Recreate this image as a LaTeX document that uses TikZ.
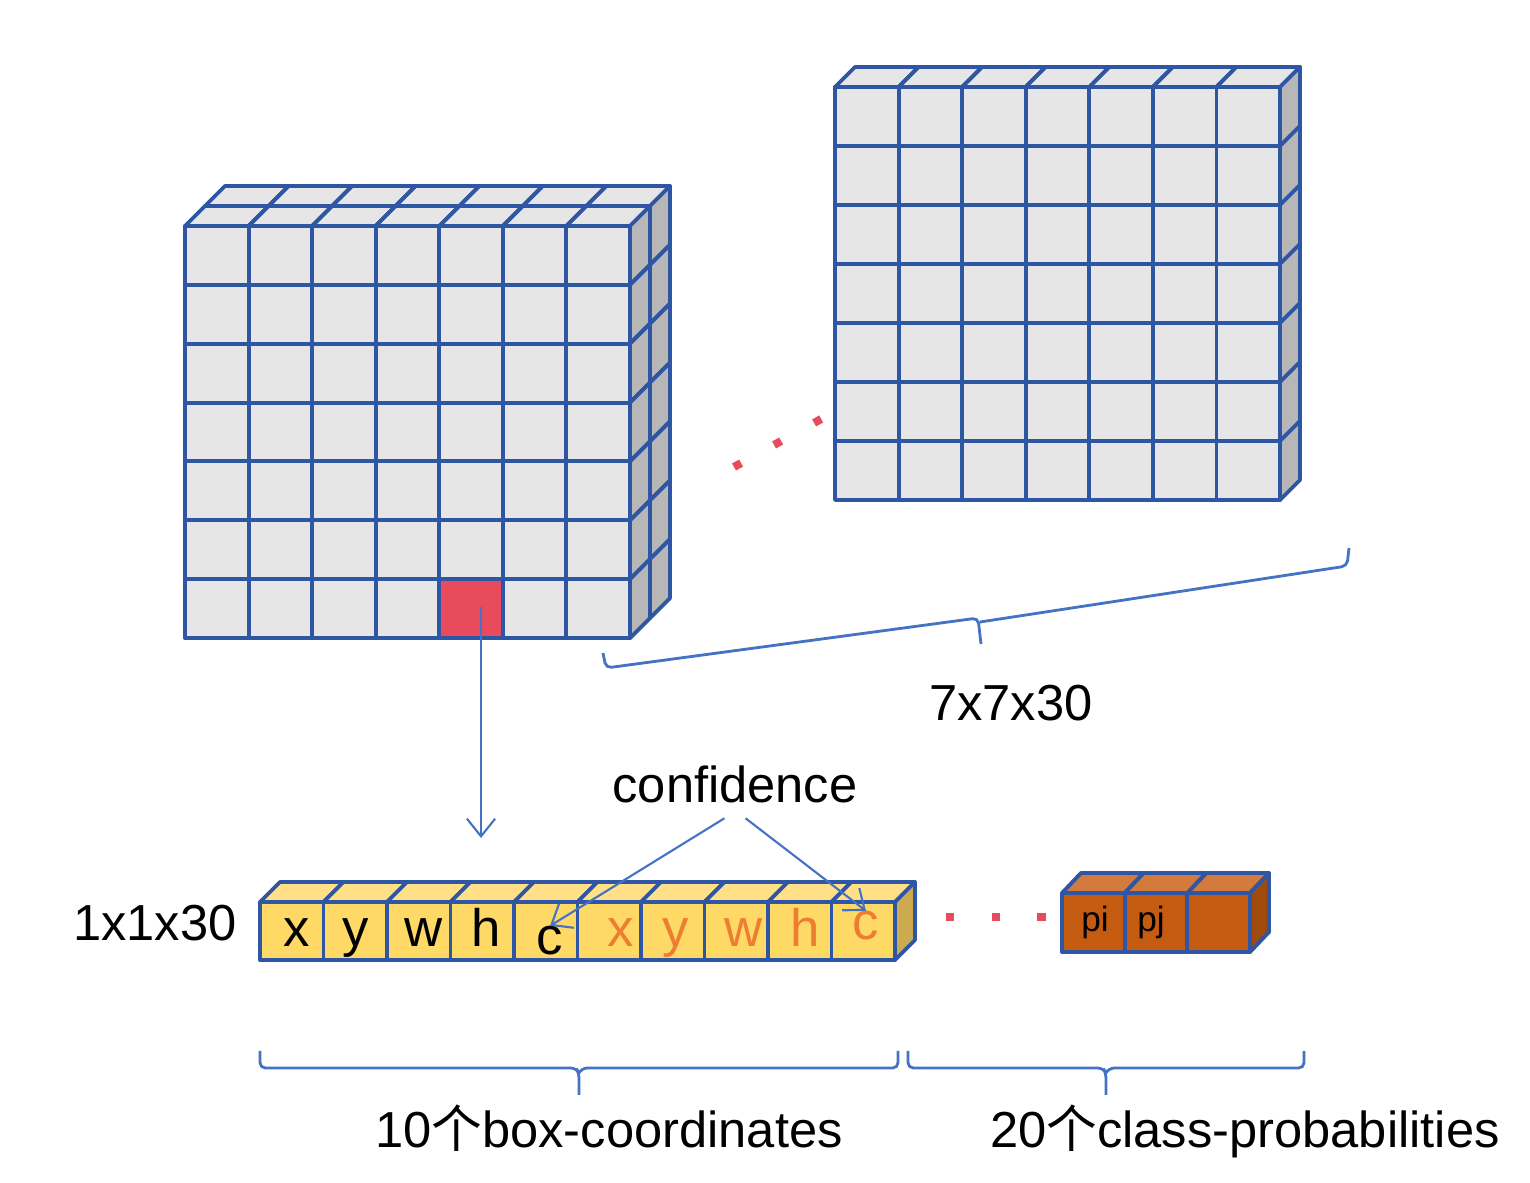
\documentclass[tikz,border=0pt]{standalone}
\usepackage{fontspec}
\setmainfont{Liberation Sans}
\newfontfamily\cjk{Noto Sans CJK SC}
\usetikzlibrary{positioning, arrows.meta}

\definecolor{gridblue}{RGB}{47,85,165}
\definecolor{linkblue}{RGB}{68,114,196}
\definecolor{cellgray}{RGB}{231,230,230}
\definecolor{sidegray}{RGB}{183,183,183}
\definecolor{cellred}{RGB}{232,76,92}
\definecolor{boxyellow}{RGB}{255,217,102}
\definecolor{topyellow}{RGB}{255,224,135}
\definecolor{sideyellow}{RGB}{204,170,80}
\definecolor{textorange}{RGB}{237,125,49}
\definecolor{boxbrown}{RGB}{197,90,17}
\definecolor{topbrown}{RGB}{210,123,60}
\definecolor{sidebrown}{RGB}{160,74,12}

\begin{document}
\begin{tikzpicture}[
        x=0.01cm, y=-0.01cm,
        gridcell/.style={draw=gridblue, line width=1.1pt, line join=round},
        link/.style={-{Straight Barb[length=5pt, width=8pt]}, draw=linkblue, line width=0.6pt},
        bracket/.style={draw=linkblue, line width=0.8pt, rounded corners=1.5pt},
        reddots/.style={draw=cellred, line width=2.3pt, dash pattern=on 2.3pt off 10.7pt},
        txt/.style={font=\fontsize{14.4}{17}\selectfont, anchor=base, inner sep=0pt},
        cubetext/.style={font=\fontsize{15}{18}\selectfont, anchor=base, inner sep=0pt},
        tagtext/.style={font=\fontsize{10}{12}\selectfont, anchor=base, inner sep=0pt}
    ]
        \useasboundingbox (0,0) rectangle (1530,1183);

        % Left tensor (two layers deep)
        \foreach \k in {1,0} {
            \foreach \i in {0,...,6}
                \draw[gridcell, fill=cellgray] ({185+20*\k+63.57*\i},{226-20*\k}) -- ++(63.57,0) -- ++(20,-20) -- ++(-63.57,0) -- cycle;
            \foreach \j in {0,...,6}
                \draw[gridcell, fill=sidegray] ({630+20*\k},{226-20*\k+58.86*\j}) -- ++(20,-20) -- ++(0,58.86) -- ++(-20,20) -- cycle;
        }
        \foreach \i in {0,...,6}
            \foreach \j in {0,...,6}
                \draw[gridcell, fill=cellgray] ({185+63.57*\i},{226+58.86*\j}) rectangle ++(63.57,58.86);
        \draw[gridcell, fill=cellred] ({185+63.57*4},{226+58.86*6}) rectangle ++(63.57,58.86);

        % Right tensor
        \foreach \i in {0,...,6}
            \draw[gridcell, fill=cellgray] ({835+63.57*\i},87) -- ++(63.57,0) -- ++(20,-20) -- ++(-63.57,0) -- cycle;
        \foreach \j in {0,...,6}
            \draw[gridcell, fill=sidegray] (1280,{87+59*\j}) -- ++(20,-20) -- ++(0,59) -- ++(-20,20) -- cycle;
        \foreach \i in {0,...,6}
            \foreach \j in {0,...,6}
                \draw[gridcell, fill=cellgray] ({835+63.57*\i},{87+59*\j}) rectangle ++(63.57,59);

        % 1x1x30 vector: box part
        \foreach \i in {0,...,9}
            \draw[gridcell, fill=topyellow] ({260+63.5*\i},902) -- ++(63.5,0) -- ++(20,-20) -- ++(-63.5,0) -- cycle;
        \draw[gridcell, fill=sideyellow] (895,902) -- ++(20,-20) -- ++(0,58) -- ++(-20,20) -- cycle;
        \foreach \i in {0,...,9}
            \draw[gridcell, fill=boxyellow] ({260+63.5*\i},902) rectangle ++(63.5,58);

        % 1x1x30 vector: class part
        \foreach \i in {0,...,2}
            \draw[gridcell, fill=topbrown] ({1062+62.7*\i},893) -- ++(62.7,0) -- ++(19,-20) -- ++(-62.7,0) -- cycle;
        \draw[gridcell, fill=sidebrown] (1250,893) -- ++(19,-20) -- ++(0,59) -- ++(-19,20) -- cycle;
        \foreach \i in {0,...,2}
            \draw[gridcell, fill=boxbrown] ({1062+62.7*\i},893) rectangle ++(62.7,59);

        % Nodes
        \node[cubetext] (x1) at (297,947) {x};
        \node[cubetext] (y1) at (356,947) {y};
        \node[cubetext] (w1) at (424,947) {w};
        \node[cubetext] (h1) at (486,947) {h};
        \node[cubetext] (c1) at (550,955) {c};
        \node[cubetext, text=textorange] (x2) at (621,947) {x};
        \node[cubetext, text=textorange] (y2) at (676,947) {y};
        \node[cubetext, text=textorange] (w2) at (744,947) {w};
        \node[cubetext, text=textorange] (h2) at (805,947) {h};
        \node[cubetext, text=textorange] (c2) at (866,940) {c};
        \node[tagtext] (pi) at (1095,932) {pi};
        \node[tagtext] (pj) at (1151,932) {pj};

        \node[txt] (dim) at (1011,721) {7x7x30};
        \node[txt] (vec) at (155,941) {1x1x30};
        \node[txt, inner sep=4pt] (conf) at (735,803) {confidence};
        \node[txt] (boxlbl) at (609,1147) {10{\cjk 个}box-coordinates};
        \node[txt] (clslbl) at (1245,1147) {20{\cjk 个}class-probabilities};

        \coordinate (redmid) at (481,607);
        \coordinate (rowtip) at (481,838);
        \coordinate (dotA) at (734,467);
        \coordinate (dotB) at (823,418);
        \coordinate (dotC) at (946,917);
        \coordinate (dotD) at (1050,917);

        % Arrows
        \draw[link] (redmid) -- (rowtip);
        \draw[link] ([xshift=-3pt]conf.south) -- (c1.north);
        \draw[link] ([xshift=3pt]conf.south) -- (c2.north);
        \draw[reddots] (dotA) -- (dotB);
        \draw[reddots] (dotC) -- (dotD);

        % Braces
        \draw[bracket] (603,653) -- (606,668) -- (978,618) -- (981,644) (980,622) -- (1347,566) -- (1349,548);
        \draw[bracket] (260,1051) |- (576,1068) -- (579,1073) -- (579,1095) (579,1073) -- (582,1068) -| (898,1051);
        \draw[bracket] (908,1051) |- (1103,1068) -- (1106,1073) -- (1106,1095) (1106,1073) -- (1109,1068) -| (1304,1051);
    \end{tikzpicture}
\end{document}
